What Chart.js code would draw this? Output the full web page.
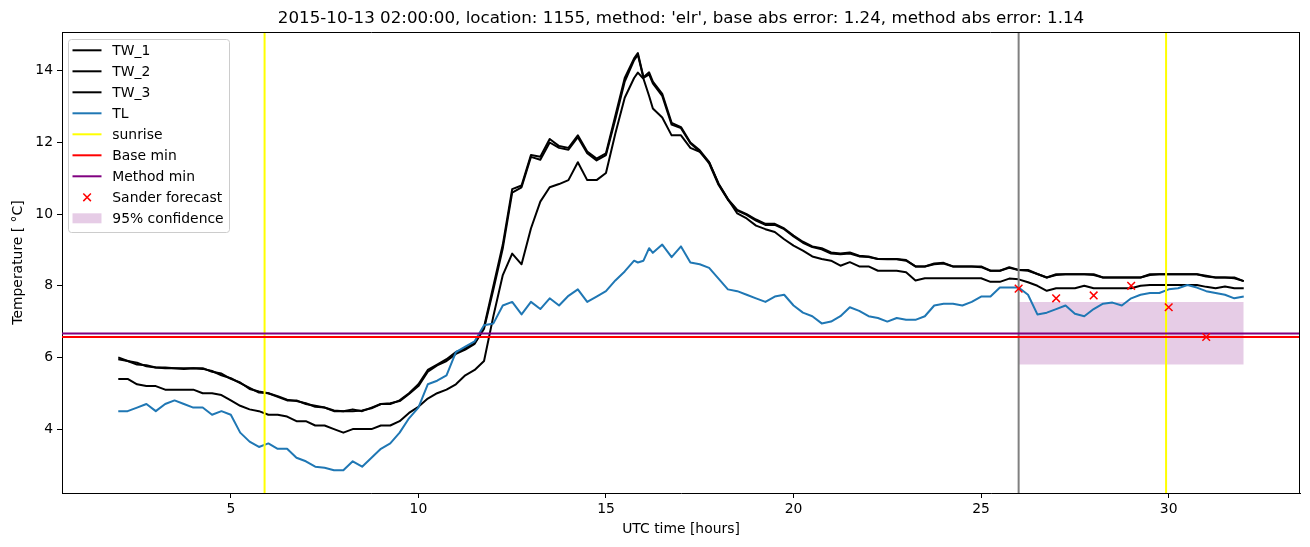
<!DOCTYPE html>
<html>
<head>
<meta charset="utf-8">
<title>Water and air temperature</title>
<script src="https://cdn.jsdelivr.net/npm/chart.js@4.4.0/dist/chart.umd.min.js"></script>
<style>
  body { margin: 0; background: #fff; }
  #wrap { width: 1310px; height: 547px; }
</style>
</head>
<body>
<div id="wrap"><canvas id="tempChart" width="1310" height="547"></canvas></div>
<script>
// time axis [hours UTC], shared by all measured series
const hours = [
  2, 2.25, 2.5, 2.75, 3, 3.25, 3.5, 3.75,
  4, 4.25, 4.5, 4.75, 5, 5.25, 5.5, 5.75,
  6, 6.25, 6.5, 6.75, 7, 7.25, 7.5, 7.75,
  8, 8.25, 8.5, 8.75, 9, 9.25, 9.5, 9.75,
  10, 10.25, 10.5, 10.75, 11, 11.25, 11.5, 11.75,
  12, 12.25, 12.5, 12.75, 13, 13.25, 13.5, 13.75,
  14, 14.25, 14.5, 14.75, 15, 15.25, 15.5, 15.75, 15.85,
  16, 16.15, 16.25, 16.5, 16.75, 17, 17.25, 17.5, 17.75,
  18, 18.25, 18.5, 18.75, 19, 19.25, 19.5, 19.75,
  20, 20.25, 20.5, 20.75, 21, 21.25, 21.5, 21.75,
  22, 22.25, 22.5, 22.75, 23, 23.25, 23.5, 23.75,
  24, 24.25, 24.5, 24.75, 25, 25.25, 25.5, 25.75,
  26, 26.25, 26.5, 26.75, 27, 27.25, 27.5, 27.75,
  28, 28.25, 28.5, 28.75, 29, 29.25, 29.5, 29.75,
  30, 30.25, 30.5, 30.75, 31, 31.25, 31.5, 31.75,
  32
];

const tw1 = [
  6.0, 5.9, 5.8, 5.78, 5.72, 5.7, 5.7, 5.7,
  5.7, 5.7, 5.6, 5.55, 5.4, 5.3, 5.12, 5.05,
  5.0, 4.9, 4.8, 4.8, 4.7, 4.65, 4.6, 4.5,
  4.5, 4.55, 4.5, 4.6, 4.7, 4.7, 4.8, 5.0,
  5.25, 5.65, 5.8, 5.95, 6.15, 6.25, 6.4, 6.85,
  8.0, 9.15, 10.7, 10.8, 11.65, 11.6, 12.1, 11.9,
  11.85, 12.2, 11.75, 11.55, 11.7, 12.75, 13.8, 14.35, 14.5,
  13.82, 13.96, 13.7, 13.36, 12.55, 12.43, 12.0, 11.78, 11.45,
  10.85, 10.42, 10.12, 10.0, 9.85, 9.73, 9.73, 9.6,
  9.4, 9.23, 9.1, 9.05, 8.93, 8.9, 8.93, 8.84,
  8.82, 8.75, 8.75, 8.75, 8.72, 8.54, 8.54, 8.62,
  8.64, 8.54, 8.54, 8.54, 8.54, 8.42, 8.42, 8.52,
  8.44, 8.44, 8.33, 8.23, 8.32, 8.32, 8.32, 8.32,
  8.32, 8.23, 8.23, 8.23, 8.23, 8.23, 8.32, 8.32,
  8.32, 8.32, 8.32, 8.32, 8.28, 8.23, 8.23, 8.23,
  8.13
];

const tw2 = [
  5.95, 5.9, 5.85, 5.75, 5.72, 5.72, 5.7, 5.68,
  5.7, 5.68, 5.62, 5.5, 5.42, 5.28, 5.15, 5.02,
  5.0, 4.92, 4.82, 4.78, 4.72, 4.62, 4.6, 4.52,
  4.5, 4.5, 4.52, 4.58, 4.7, 4.72, 4.78, 4.98,
  5.2, 5.6, 5.78, 5.9, 6.1, 6.22, 6.38, 6.8,
  7.9, 9.05, 10.6, 10.75, 11.6, 11.52, 12.0, 11.85,
  11.8, 12.15, 11.7, 11.5, 11.65, 12.65, 13.7, 14.3, 14.45,
  13.8, 13.9, 13.65, 13.3, 12.5, 12.4, 11.98, 11.75, 11.42,
  10.82, 10.4, 10.1, 9.98, 9.82, 9.7, 9.7, 9.58,
  9.38, 9.2, 9.08, 9.02, 8.9, 8.88, 8.9, 8.82,
  8.8, 8.75, 8.74, 8.74, 8.7, 8.54, 8.54, 8.6,
  8.62, 8.54, 8.54, 8.54, 8.52, 8.42, 8.42, 8.5,
  8.44, 8.42, 8.33, 8.23, 8.3, 8.32, 8.32, 8.32,
  8.3, 8.23, 8.23, 8.23, 8.23, 8.23, 8.3, 8.32,
  8.32, 8.32, 8.32, 8.32, 8.26, 8.23, 8.23, 8.21,
  8.13
];

const tw3 = [
  5.4, 5.4, 5.25, 5.2, 5.2, 5.1, 5.1, 5.1,
  5.1, 5.0, 5.0, 4.95, 4.8, 4.65, 4.55, 4.5,
  4.4, 4.4, 4.35, 4.22, 4.22, 4.1, 4.1, 4.0,
  3.9, 4.0, 4.0, 4.0, 4.1, 4.1, 4.22, 4.45,
  4.62, 4.85, 5.0, 5.1, 5.25, 5.5, 5.65, 5.9,
  7.16, 8.3, 8.9, 8.6, 9.6, 10.35, 10.75, 10.84,
  10.95, 11.45, 10.95, 10.95, 11.15, 12.25, 13.25, 13.8, 13.95,
  13.78, 13.3, 12.95, 12.7, 12.2, 12.2, 11.85, 11.74, 11.45,
  10.85, 10.42, 10.02, 9.88, 9.68, 9.58, 9.5, 9.3,
  9.12, 8.98, 8.82, 8.75, 8.7, 8.56, 8.66, 8.54,
  8.54, 8.42, 8.42, 8.42, 8.38, 8.15, 8.21, 8.21,
  8.21, 8.21, 8.21, 8.21, 8.21, 8.11, 8.11, 8.2,
  8.18, 8.1, 8.0, 7.86, 7.93, 7.93, 7.93, 8.0,
  7.93, 7.93, 7.93, 7.93, 7.93, 8.0, 8.02, 8.02,
  8.02, 8.02, 8.02, 8.02, 7.97, 7.93, 7.98, 7.93,
  7.93
];

const tl = [
  4.5, 4.5, 4.6, 4.7, 4.5, 4.7, 4.8, 4.7,
  4.6, 4.6, 4.4, 4.5, 4.4, 3.9, 3.65, 3.5,
  3.6, 3.45, 3.45, 3.2, 3.1, 2.95, 2.92, 2.85,
  2.85, 3.1, 2.95, 3.2, 3.45, 3.6, 3.9, 4.3,
  4.6, 5.25, 5.35, 5.5, 6.15, 6.3, 6.45, 6.9,
  6.95, 7.45, 7.55, 7.2, 7.55, 7.35, 7.65, 7.45,
  7.72, 7.9, 7.55, 7.7, 7.85, 8.15, 8.4, 8.7, 8.65,
  8.7, 9.05, 8.92, 9.15, 8.8, 9.1, 8.65, 8.6, 8.5,
  8.2, 7.9, 7.85, 7.75, 7.65, 7.55, 7.7, 7.75,
  7.45, 7.25, 7.15, 6.95, 7.0, 7.15, 7.4, 7.3,
  7.15, 7.1, 7.0, 7.1, 7.05, 7.05, 7.15, 7.45,
  7.5, 7.5, 7.45, 7.55, 7.7, 7.7, 7.95, 7.95,
  7.95, 7.75, 7.2, 7.25, 7.35, 7.45, 7.22, 7.15,
  7.35, 7.5, 7.53, 7.45, 7.65, 7.75, 7.8, 7.8,
  7.9, 7.93, 8.02, 7.95, 7.85, 7.8, 7.75, 7.65,
  7.7
];

const sunriseHours = [5.9, 29.93];
const forecastStart = 26;
const baseMin = 6.57;
const methodMin = 6.67;

const forecastHours = [26, 27, 28, 29, 30, 31];
const forecastTemps = [7.92, 7.65, 7.73, 8.0, 7.4, 6.57];

const confHours = [26, 32];
const confLow = [5.8, 5.8];
const confHigh = [7.55, 7.55];

const xTicks = [5, 10, 15, 20, 25, 30];
const yTicks = [4, 6, 8, 10, 12, 14];
const xRange = [0.5, 33.5];
const yRange = [2.215, 15.085];

const chartTitle = "2015-10-13 02:00:00, location: 1155, method: 'elr', base abs error: 1.24, method abs error: 1.14";

const FONT = "'DejaVu Sans', 'Liberation Sans', sans-serif";
Chart.defaults.font.family = FONT;
Chart.defaults.font.size = 13.9;
Chart.defaults.color = '#000';

function pairs(xs, ys) {
    return xs.map((x, i) => ({ x: x, y: ys[i] }));
}

function vline(x) {
    return [{ x: x, y: yRange[0] }, { x: x, y: yRange[1] }];
}

function hline(y) {
    return [{ x: xRange[0], y: y }, { x: xRange[1], y: y }];
}

// draw sequence, bottom to top (Chart.js draws lower "order" on top)
let seq = 0;
function lineSet(label, data, color, legend) {
    seq++;
    return {
        label: label,
        data: data,
        borderColor: color,
        backgroundColor: color,
        borderWidth: 2,
        borderJoinStyle: 'round',
        pointRadius: 0,
        fill: false,
        tension: 0,
        order: 100 - seq,
        legendKind: legend ? 'line' : null
    };
}

const datasets = [];

seq++;
datasets.push({
    label: 'confLow', data: pairs(confHours, confLow),
    borderWidth: 0, pointRadius: 0, fill: false, order: 100 - seq
});
seq++;
datasets.push({
    label: '95% confidence', data: pairs(confHours, confHigh),
    borderWidth: 0, pointRadius: 0, fill: '-1',
    backgroundColor: 'rgba(128, 0, 128, 0.2)', order: 100 - seq,
    legendKind: 'patch'
});

datasets.push(lineSet('TW_1', pairs(hours, tw1), '#000000', true));
datasets.push(lineSet('TW_2', pairs(hours, tw2), '#000000', true));
datasets.push(lineSet('TW_3', pairs(hours, tw3), '#000000', true));
datasets.push(lineSet('TL', pairs(hours, tl), '#1f77b4', true));
sunriseHours.forEach((h, i) => {
    datasets.push(lineSet('sunrise', vline(h), '#ffff00', i === 0));
});
datasets.push(lineSet('forecast start', vline(forecastStart), '#808080', false));
datasets.push(lineSet('Base min', hline(baseMin), '#ff0000', true));
datasets.push(lineSet('Method min', hline(methodMin), '#800080', true));

seq++;
datasets.push({
    label: 'Sander forecast', data: pairs(forecastHours, forecastTemps),
    showLine: false, pointStyle: 'crossRot', pointRadius: 5.4,
    pointBorderColor: '#ff0000', pointBackgroundColor: '#ff0000',
    pointBorderWidth: 1.5, borderColor: '#ff0000', order: 100 - seq,
    legendKind: 'marker'
});

const legendOrder = ['TW_1', 'TW_2', 'TW_3', 'TL', 'sunrise', 'Base min',
    'Method min', 'Sander forecast', '95% confidence'];

// top/right spines, title and the matplotlib-style legend box
const decorPlugin = {
    id: 'decor',
    afterDraw(chart) {
        const ctx = chart.ctx;
        const a = chart.chartArea;
        ctx.save();

        ctx.strokeStyle = '#000';
        ctx.lineWidth = 1;
        ctx.beginPath();
        ctx.moveTo(a.left, a.top + 0.5);
        ctx.lineTo(a.right, a.top + 0.5);
        ctx.moveTo(a.right - 0.5, a.top);
        ctx.lineTo(a.right - 0.5, a.bottom);
        ctx.stroke();

        ctx.fillStyle = '#000';
        ctx.font = '16.7px ' + FONT;
        ctx.textAlign = 'center';
        ctx.textBaseline = 'alphabetic';
        ctx.fillText(chartTitle, (a.left + a.right) / 2, 23);

        // legend
        const bx = 68.5, by = 39.5, bw = 161, bh = 193;
        ctx.beginPath();
        ctx.roundRect(bx, by, bw, bh, 3);
        ctx.fillStyle = 'rgba(255, 255, 255, 0.8)';
        ctx.fill();
        ctx.strokeStyle = '#cccccc';
        ctx.stroke();

        ctx.font = '13.9px ' + FONT;
        ctx.textAlign = 'left';
        legendOrder.forEach((name, i) => {
            const ds = chart.data.datasets.find(d => d.label === name && d.legendKind);
            if (!ds) return;
            const y = 50.3 + i * 21;
            if (ds.legendKind === 'line') {
                ctx.strokeStyle = ds.borderColor;
                ctx.lineWidth = 2;
                ctx.beginPath();
                ctx.moveTo(72.5, y);
                ctx.lineTo(101.5, y);
                ctx.stroke();
            } else if (ds.legendKind === 'marker') {
                ctx.strokeStyle = ds.pointBorderColor;
                ctx.lineWidth = 1.5;
                ctx.beginPath();
                ctx.moveTo(83.3, y - 3.8);
                ctx.lineTo(90.9, y + 3.8);
                ctx.moveTo(83.3, y + 3.8);
                ctx.lineTo(90.9, y - 3.8);
                ctx.stroke();
            } else if (ds.legendKind === 'patch') {
                ctx.fillStyle = ds.backgroundColor;
                ctx.fillRect(72.5, y - 5, 29, 10);
            }
            ctx.fillStyle = '#000';
            ctx.fillText(name, 112.3, y + 5);
        });
        ctx.restore();
    }
};

new Chart(document.getElementById('tempChart'), {
    type: 'line',
    data: { datasets: datasets },
    options: {
        responsive: false,
        animation: false,
        devicePixelRatio: 1,
        events: [],
        layout: { padding: { left: 0, right: 10, top: 32, bottom: 0 } },
        plugins: {
            legend: { display: false },
            title: { display: false },
            tooltip: { enabled: false }
        },
        scales: {
            x: {
                type: 'linear',
                min: xRange[0],
                max: xRange[1],
                afterBuildTicks: s => { s.ticks = xTicks.map(v => ({ value: v })); },
                afterFit: s => { s.height = 54; },
                grid: { drawOnChartArea: false, drawTicks: true, tickLength: 5, color: '#000', lineWidth: 1 },
                border: { display: true, color: '#000', width: 1 },
                ticks: { color: '#000', padding: 3, maxRotation: 0, autoSkip: false, callback: v => String(v) },
                title: { display: true, text: 'UTC time [hours]', color: '#000', padding: { top: 0, bottom: 9 } }
            },
            y: {
                type: 'linear',
                min: yRange[0],
                max: yRange[1],
                afterBuildTicks: s => { s.ticks = yTicks.map(v => ({ value: v })); },
                afterFit: s => { s.width = 62; },
                grid: { drawOnChartArea: false, drawTicks: true, tickLength: 5, color: '#000', lineWidth: 1 },
                border: { display: true, color: '#000', width: 1 },
                ticks: { color: '#000', padding: 4, autoSkip: false, callback: v => String(v) },
                title: { display: true, text: 'Temperature [ °C]', color: '#000', padding: { top: 10, bottom: 0 } }
            }
        }
    },
    plugins: [decorPlugin]
});
</script>
</body>
</html>
